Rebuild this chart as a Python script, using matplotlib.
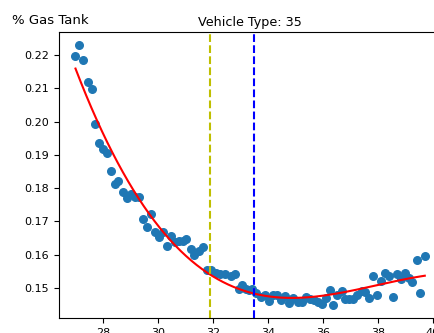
import numpy as np
import matplotlib
matplotlib.use("Agg")
import matplotlib.pyplot as plt

# scatter (speed vs fraction of tank)
speed = [27.00, 27.14, 27.29, 27.44, 27.59, 27.72, 27.87, 28.01, 28.15, 28.29,
         28.44, 28.56, 28.72, 28.89, 29.02, 29.17, 29.30, 29.44, 29.60, 29.75,
         29.91, 30.05, 30.17, 30.33, 30.48, 30.63, 30.75, 30.90, 31.02, 31.20,
         31.32, 31.48, 31.63, 31.78, 31.94, 32.11, 32.27, 32.45, 32.66, 32.79,
         32.94, 33.06, 33.20, 33.32, 33.44, 33.57, 33.75, 33.89, 34.05, 34.20,
         34.35, 34.48, 34.63, 34.78, 34.93, 35.11, 35.24, 35.39, 35.53, 35.69,
         35.83, 35.97, 36.11, 36.25, 36.38, 36.52, 36.69, 36.80, 36.96, 37.11,
         37.26, 37.41, 37.54, 37.69, 37.81, 37.97, 38.11, 38.26, 38.40, 38.54,
         38.69, 38.84, 38.99, 39.13, 39.26, 39.41, 39.55, 39.71]
gas = [0.2198, 0.2230, 0.2186, 0.2118, 0.2097, 0.1992, 0.1936, 0.1917, 0.1905, 0.1852,
       0.1812, 0.1822, 0.1789, 0.1769, 0.1781, 0.1774, 0.1772, 0.1707, 0.1684, 0.1722,
       0.1667, 0.1654, 0.1669, 0.1626, 0.1656, 0.1639, 0.1642, 0.1642, 0.1646, 0.1616,
       0.1599, 0.1612, 0.1624, 0.1553, 0.1554, 0.1545, 0.1541, 0.1541, 0.1535, 0.1543,
       0.1497, 0.1509, 0.1496, 0.1494, 0.1496, 0.1484, 0.1474, 0.1479, 0.1462, 0.1479,
       0.1479, 0.1464, 0.1476, 0.1454, 0.1469, 0.1459, 0.1459, 0.1474, 0.1466, 0.1464,
       0.1459, 0.1452, 0.1469, 0.1494, 0.1449, 0.1480, 0.1491, 0.1466, 0.1468, 0.1466,
       0.1480, 0.1492, 0.1489, 0.1471, 0.1536, 0.1479, 0.1522, 0.1544, 0.1535, 0.1474,
       0.1542, 0.1526, 0.1544, 0.1529, 0.1519, 0.1584, 0.1484, 0.1596]

yellow_x = 31.9
blue_x = 33.5

fig = plt.figure(figsize=(4.35, 3.33), dpi=100)
ax = fig.add_axes([59/435, 15/333, 382/435, 286/333])

ax.scatter(speed, gas, s=30, color="tab:blue")

# cubic trend through the points
coef = np.polyfit(speed, gas, 3)
xs = np.linspace(min(speed), max(speed), 200)
ax.plot(xs, np.polyval(coef, xs), color="red", lw=1.5)

ax.axvline(yellow_x, color="y", ls="--", lw=1.5)
ax.axvline(blue_x, color="blue", ls="--", lw=1.5)

ax.set_xlim(26.4, 40.3)
ax.set_ylim(0.1410, 0.2269)
ax.set_xticks([28, 30, 32, 34, 36, 38, 40])
ax.tick_params(labelsize=8)
ax.set_title("Vehicle Type: 35", fontsize=9.2, pad=4)
fig.text(12/435, 1 - 20/333, "% Gas Tank", fontsize=9.5, va="center", ha="left")

fig.savefig("out.png", dpi=100)
